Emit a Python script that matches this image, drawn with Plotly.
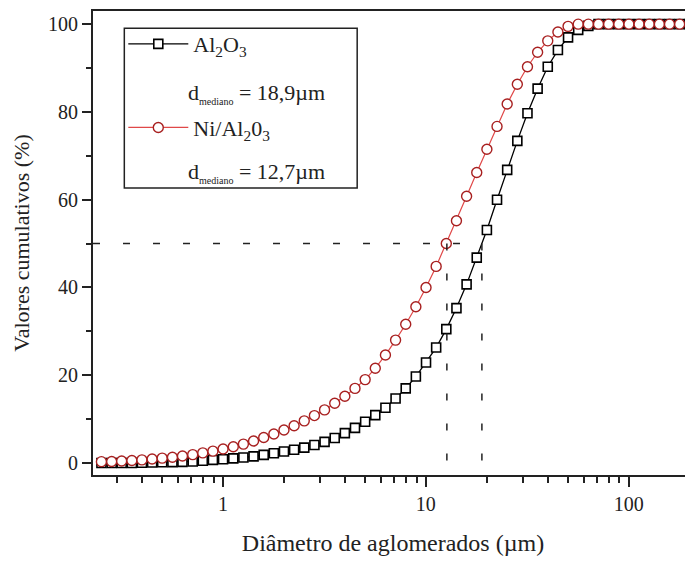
import math
import plotly.graph_objects as go

# particle size classes (µm)
diametro = [0.252, 0.283, 0.317, 0.356, 0.399, 0.448, 0.502, 0.564, 0.632, 0.710,
            0.796, 0.893, 1.002, 1.125, 1.262, 1.416, 1.589, 1.783, 2.000, 2.244,
            2.518, 2.825, 3.170, 3.557, 3.991, 4.477, 5.024, 5.637, 6.325, 7.096,
            7.962, 8.934, 10.024, 11.247, 12.619, 14.159, 15.887, 17.825, 20.000, 22.440,
            25.179, 28.251, 31.698, 35.566, 39.905, 44.774, 50.238, 56.368, 63.246, 70.963,
            79.621, 89.337, 100.237, 112.468, 126.191, 141.589, 158.866, 178.250, 200.000]

al2o3 = [0.0, 0.0, 0.0, 0.0, 0.05, 0.1, 0.15, 0.2, 0.25, 0.35,
         0.5, 0.7, 0.85, 1.05, 1.25, 1.5, 1.85, 2.2, 2.6, 3.0,
         3.5, 4.1, 4.8, 5.7, 6.8, 8.0, 9.4, 10.9, 12.6, 14.7,
         17.0, 19.7, 22.9, 26.3, 30.5, 35.3, 40.7, 46.8, 53.1, 60.0,
         66.8, 73.4, 79.7, 85.3, 90.3, 94.1, 97.0, 98.7, 99.6, 100.0,
         100.0, 100.0, 100.0, 100.0, 100.0, 100.0, 100.0, 100.0, 100.0]

ni_al2o3 = [0.3, 0.35, 0.45, 0.55, 0.7, 0.9, 1.1, 1.3, 1.6, 1.9,
            2.3, 2.7, 3.2, 3.7, 4.3, 5.0, 5.8, 6.6, 7.5, 8.5,
            9.6, 10.8, 12.1, 13.6, 15.2, 17.0, 19.0, 21.6, 24.6, 28.0,
            31.6, 35.6, 40.0, 44.8, 50.0, 55.2, 60.8, 66.2, 71.5, 76.7,
            81.8, 86.3, 90.3, 93.6, 96.2, 98.2, 99.5, 100.0, 100.0, 100.0,
            100.0, 100.0, 100.0, 100.0, 100.0, 100.0, 100.0, 100.0, 100.0]

series_names = ["Al<sub>2</sub>O<sub>3</sub>", "Ni/Al<sub>2</sub>0<sub>3</sub>"]
medianas = [18.9, 12.7]
mediana_labels = ["18,9µm", "12,7µm"]
nivel_mediana = 50
x_min, x_max = 0.229, 207.4
y_min, y_max = -2.74, 103.0

FONT = "Liberation Serif"
TXT = "#222"

fig = go.Figure()

fig.add_trace(go.Scatter(
    x=diametro, y=al2o3, mode="lines+markers", name=series_names[0],
    legendgroup="a",
    line=dict(color="black", width=1.3),
    marker=dict(symbol="square", size=9, color="white",
                line=dict(color="black", width=1.6)),
))
fig.add_trace(go.Scatter(
    x=diametro, y=ni_al2o3, mode="lines+markers", name=series_names[1],
    legendgroup="b",
    line=dict(color="#e04848", width=1.2),
    marker=dict(symbol="circle", size=10, color="white",
                line=dict(color="#a82020", width=1.4)),
))

# dashed guides for medians
fig.add_trace(go.Scatter(
    x=[x_min, max(medianas)], y=[nivel_mediana, nivel_mediana], mode="lines",
    line=dict(color=TXT, width=1.5, dash="7px,23px"), showlegend=False,
    hoverinfo="skip"))
for m in medianas:
    fig.add_trace(go.Scatter(
        x=[m, m], y=[nivel_mediana, 0], mode="lines",
        line=dict(color=TXT, width=1.5, dash="7px,23px"), showlegend=False,
        hoverinfo="skip"))

# median texts inside the legend box
for lab, yp in zip(mediana_labels, [0.823, 0.653]):
    fig.add_annotation(
        xref="paper", yref="paper", x=0.155, y=yp, xanchor="left", yanchor="middle",
        text="d<sub><span style='font-size:10px'>mediano</span></sub> = " + lab,
        showarrow=False, font=dict(family=FONT, size=22, color=TXT))

# legend frame
fig.add_shape(type="rect", xref="paper", yref="paper",
              x0=0.0522, x1=0.4403, y0=0.6185, y1=0.9629,
              line=dict(color=TXT, width=1.5), fillcolor="rgba(0,0,0,0)", layer="above")

fig.update_layout(
    width=685, height=554,
    margin=dict(l=85, r=0, t=3, b=87, autoexpand=False),
    paper_bgcolor="white", plot_bgcolor="white",
    font=dict(family=FONT, size=20, color=TXT),
    showlegend=True,
    legend=dict(
        x=0.0505, y=0.974, xanchor="left", yanchor="top",
        bgcolor="rgba(0,0,0,0)", borderwidth=0,
        font=dict(family=FONT, size=22, color=TXT),
        itemwidth=60, traceorder="grouped", tracegroupgap=52,
    ),
    xaxis=dict(
        type="log", range=[math.log10(x_min), math.log10(x_max)], automargin=False,
        showline=True, linecolor=TXT, linewidth=1.8, mirror=True,
        showgrid=False, zeroline=False,
        ticks="outside", ticklen=10, tickwidth=1.6, tickcolor=TXT,
        tickvals=[1, 10, 100], ticktext=["1", "10", "100"],
        minor=dict(ticks="outside", ticklen=6, tickwidth=1.6, tickcolor=TXT,
                   tickvals=[0.3, 0.4, 0.5, 0.6, 0.7, 0.8, 0.9,
                             2, 3, 4, 5, 6, 7, 8, 9,
                             20, 30, 40, 50, 60, 70, 80, 90, 200],
                   showgrid=False),
        tickfont=dict(family=FONT, size=20),
        title=dict(text="Diâmetro de aglomerados (µm)", standoff=20,
                   font=dict(family=FONT, size=24)),
    ),
    yaxis=dict(
        range=[y_min, y_max], automargin=False,
        showline=True, linecolor=TXT, linewidth=1.8, mirror=False,
        showgrid=False, zeroline=False,
        ticks="outside", ticklen=9, tickwidth=1.6, tickcolor=TXT,
        tickvals=[0, 20, 40, 60, 80, 100],
        minor=dict(ticks="outside", ticklen=5, tickwidth=1.6, tickcolor=TXT,
                   tickvals=[10, 30, 50, 70, 90], showgrid=False),
        tickfont=dict(family=FONT, size=20),
        title=dict(text="Valores cumulativos (%)", standoff=12,
                   font=dict(family=FONT, size=22)),
    ),
)

fig.write_html("out.html")
